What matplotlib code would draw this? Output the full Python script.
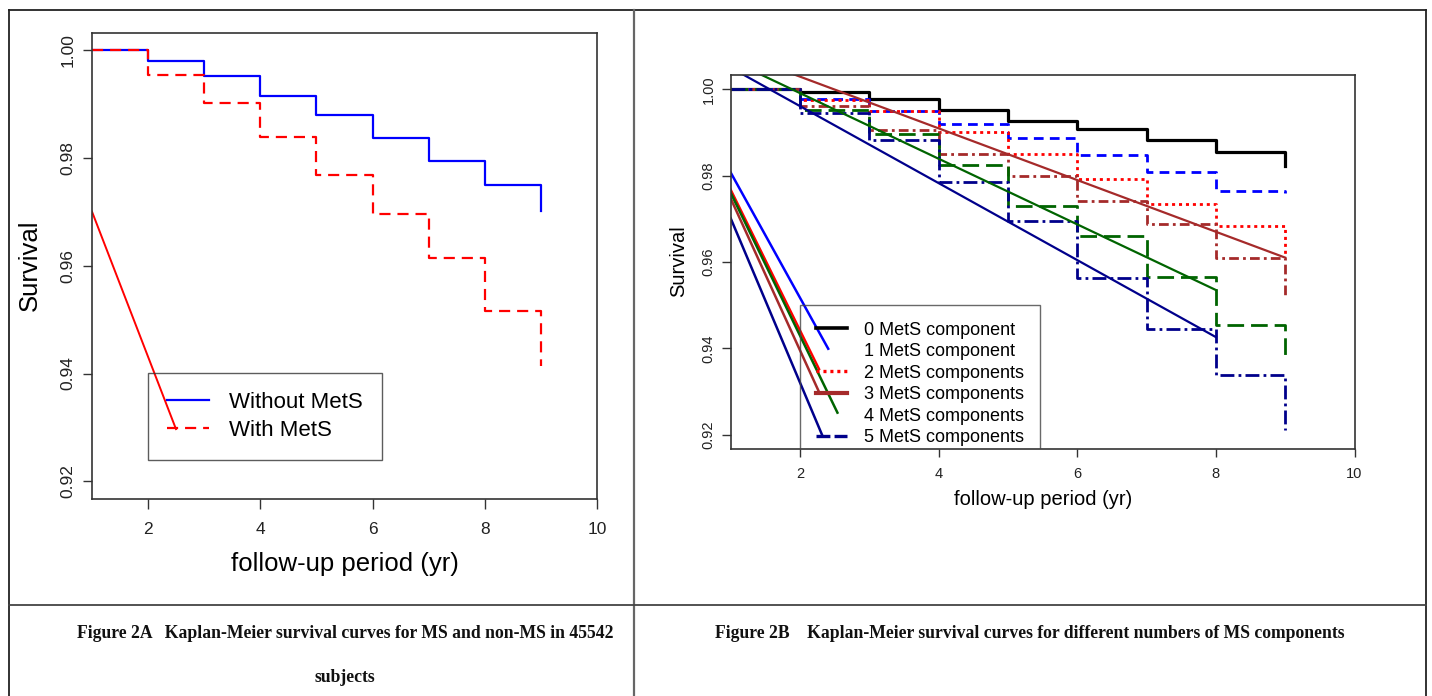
import matplotlib
matplotlib.use("Agg")
import matplotlib.pyplot as plt
from matplotlib.lines import Line2D
from matplotlib.ticker import FormatStrFormatter

plt.rcParams['font.family'] = ['Liberation Sans', 'DejaVu Sans']
plt.rcParams['lines.scale_dashes'] = False

# ---------------- data ----------------
years = [1, 2, 3, 4, 5, 6, 7, 8, 9]

# Figure 2A
surv_without = [1.0, 0.9979, 0.9951, 0.9915, 0.9879, 0.9836, 0.9794, 0.9750, 0.9702]
surv_with = [1.0, 0.9953, 0.9901, 0.9839, 0.9767, 0.9696, 0.9614, 0.9516, 0.9414]
labels_a = ["Without MetS", "With MetS"]
# stray straight segment in panel A
stray_a_x = [1.0, 2.497]
stray_a_y = [0.9700, 0.9297]

# Figure 2B
surv_0 = [1.0, 0.9993, 0.9977, 0.9951, 0.9926, 0.9908, 0.9883, 0.9854, 0.9823]
surv_1 = [1.0, 0.9977, 0.9949, 0.9920, 0.9888, 0.9848, 0.9808, 0.9764, 0.9760]
surv_2 = [1.0, 0.9974, 0.9949, 0.9901, 0.9851, 0.9792, 0.9735, 0.9683, 0.9618]
surv_3 = [1.0, 0.9961, 0.9905, 0.9851, 0.9798, 0.9741, 0.9687, 0.9610, 0.9516]
surv_4 = [1.0, 0.9951, 0.9897, 0.9824, 0.9729, 0.9660, 0.9566, 0.9454, 0.9379]
surv_5 = [1.0, 0.9946, 0.9883, 0.9785, 0.9695, 0.9562, 0.9444, 0.9339, 0.9211]
labels_b = ["0 MetS component", "1 MetS component", "2 MetS components",
            "3 MetS components", "4 MetS components", "5 MetS components"]
# stray straight segments in panel B (x pair, y pair)
stray_b_long_x = {"navy": [1.0, 8.0], "green": [1.0, 8.0], "brown": [1.0, 9.0]}
stray_b_long_y = {"navy": [1.0050, 0.9426], "green": [1.0067, 0.9535], "brown": [1.0089, 0.9610]}
stray_b_short_x = {"blue": [1.0, 2.407], "red": [1.0, 2.274], "brown": [1.0, 2.274],
                   "green": [1.0, 2.540], "navy": [1.0, 2.317]}
stray_b_short_y = {"blue": [0.9807, 0.9399], "red": [0.9767, 0.9352], "brown": [0.9747, 0.9299],
                   "green": [0.9760, 0.9251], "navy": [0.9701, 0.9200]}

xticks = [2, 4, 6, 8, 10]
yticks = [0.92, 0.94, 0.96, 0.98, 1.00]

caption_a1 = "Figure 2A   Kaplan-Meier survival curves for MS and non-MS in 45542"
caption_a2 = "subjects"
caption_b = "Figure 2B    Kaplan-Meier survival curves for different numbers of MS components"

# ---------------- figure ----------------
W, H = 1432, 696
fig = plt.figure(figsize=(W / 100, H / 100), dpi=100)
fig.patch.set_facecolor("white")

def px_rect(left, top, right, bottom):
    return [left / W, 1 - bottom / H, (right - left) / W, (bottom - top) / H]

COL = {"black": "#000000", "blue": "#0000FF", "red": "#FF0000",
       "brown": "#A52A2A", "green": "#006400", "navy": "#00008B"}
SPINE = "#333333"

def style_axes(ax, tick_fs, xlen, xpad, ylen, ypad):
    ax.set_xlim(1, 10)
    ax.set_ylim(0.9168, 1.0032)
    ax.set_xticks(xticks)
    ax.set_yticks(yticks)
    ax.yaxis.set_major_formatter(FormatStrFormatter('%.2f'))
    for s in ax.spines.values():
        s.set_color(SPINE)
        s.set_linewidth(1.2)
    ax.tick_params(axis='x', length=xlen, pad=xpad, width=1.0, color=SPINE, labelsize=tick_fs, colors="#222222")
    ax.tick_params(axis='y', length=ylen, pad=ypad, width=1.0, color=SPINE, labelsize=tick_fs, colors="#222222")
    ax.tick_params(axis='both', color=SPINE)
    plt.setp(ax.get_yticklabels(), rotation=90, va='center', ha='right')

# ---------------- Panel A ----------------
axA = fig.add_axes(px_rect(92, 32.5, 597, 498.7))
style_axes(axA, 12.5, 7, 9.5, 6.5, 5.5)
lA1, = axA.step(years, surv_without, where='post', color=COL["blue"], lw=1.6, label=labels_a[0])
lA2, = axA.step(years, surv_with, where='post', color=COL["red"], lw=1.6,
                linestyle=(0, (8, 5)), label=labels_a[1])
axA.plot(stray_a_x, stray_a_y, color=COL["red"], lw=1.4)
axA.set_xlabel("follow-up period (yr)", fontsize=18.5, va='center')
axA.set_ylabel("Survival", fontsize=18.5, va='center', ha='center')
axA.xaxis.set_label_coords(0.501, -0.141)
axA.yaxis.set_label_coords(-0.1228, 0.5)
legA = axA.legend(handles=[lA1, lA2], labels=labels_a, loc='upper left',
                  bbox_to_anchor=(1 / 9, 0.2696), borderaxespad=0, fontsize=16,
                  handlelength=1.9, handletextpad=0.9, borderpad=0.85, labelspacing=0.33,
                  fancybox=False, frameon=True)
legA.get_frame().set_edgecolor("#333333")
legA.get_frame().set_linewidth(1.0)
legA.get_frame().set_facecolor("none")

# ---------------- Panel B ----------------
axB = fig.add_axes(px_rect(730.7, 75.4, 1354.5, 448.5))
style_axes(axB, 10.5, 5.5, 8, 6.5, 4.5)
lB0, = axB.step(years, surv_0, where='post', color=COL["black"], lw=2.3)
lB1, = axB.step(years, surv_1, where='post', color=COL["blue"], lw=2.0, linestyle=(0, (7, 4.5)))
lB2, = axB.step(years, surv_2, where='post', color=COL["red"], lw=2.0, linestyle=(0, (2.2, 2.8)))
lB3, = axB.step(years, surv_3, where='post', color=COL["brown"], lw=2.0, linestyle=(0, (7, 3, 2, 3)))
lB4, = axB.step(years, surv_4, where='post', color=COL["green"], lw=2.0, linestyle=(0, (12, 5)))
lB5, = axB.step(years, surv_5, where='post', color=COL["navy"], lw=2.0, linestyle=(0, (10, 3, 2, 3)))
for k in stray_b_long_x:
    axB.plot(stray_b_long_x[k], stray_b_long_y[k], color=COL[k], lw=1.6)
for k in stray_b_short_x:
    axB.plot(stray_b_short_x[k], stray_b_short_y[k], color=COL[k], lw=1.8)
axB.set_xlabel("follow-up period (yr)", fontsize=14.5, va='center')
axB.set_ylabel("Survival", fontsize=14.5, va='center', ha='center')
axB.xaxis.set_label_coords(0.5006, -0.1364)
axB.yaxis.set_label_coords(-0.0829, 0.5025)

hB = [Line2D([], [], color=COL["black"], lw=2.6),
      Line2D([], [], color='none'),
      Line2D([], [], color=COL["red"], lw=2.4, linestyle=(0, (2.2, 2.8))),
      Line2D([], [], color=COL["brown"], lw=3.0),
      Line2D([], [], color='none'),
      Line2D([], [], color=COL["navy"], lw=2.4, linestyle=(0, (10, 3)))]
legB = axB.legend(handles=hB, labels=labels_b, loc='upper left',
                  bbox_to_anchor=(1 / 9, 0.3835), borderaxespad=0, fontsize=13,
                  handlelength=1.72, handletextpad=0.9, borderpad=0.9, labelspacing=0.25,
                  fancybox=False, frameon=True)
legB.get_frame().set_edgecolor("#444444")
legB.get_frame().set_linewidth(1.0)
legB.get_frame().set_facecolor("none")
legB.get_frame().set_clip_on(True)
legB.get_frame().set_clip_box(axB.bbox)

# ---------------- table borders ----------------
def fig_line(x0, y0, x1, y1, color="#222222", lw=1.3):
    fig.add_artist(Line2D([x0 / W, x1 / W], [1 - y0 / H, 1 - y1 / H],
                          transform=fig.transFigure, color=color, lw=lw))

fig_line(8.7, 10, 1425.7, 10)
fig_line(8.7, 10, 8.7, 696)
fig_line(1425.7, 10, 1425.7, 696)
fig_line(633.7, 10, 633.7, 696, color="#666666", lw=1.6)
fig_line(8.7, 605, 1425.7, 605, color="#444444", lw=1.3)

# ---------------- captions ----------------
cap_kw = dict(family=['Liberation Serif', 'DejaVu Serif'], fontweight='bold', fontsize=12.7,
              ha='center', va='center', color="#111111")
fig.text(345 / W, 1 - 633 / H, caption_a1, **cap_kw)
fig.text(345 / W, 1 - 678 / H, caption_a2, **cap_kw)
fig.text(1030 / W, 1 - 633 / H, caption_b, **cap_kw)

fig.savefig("out.png", dpi=100, facecolor="white")
